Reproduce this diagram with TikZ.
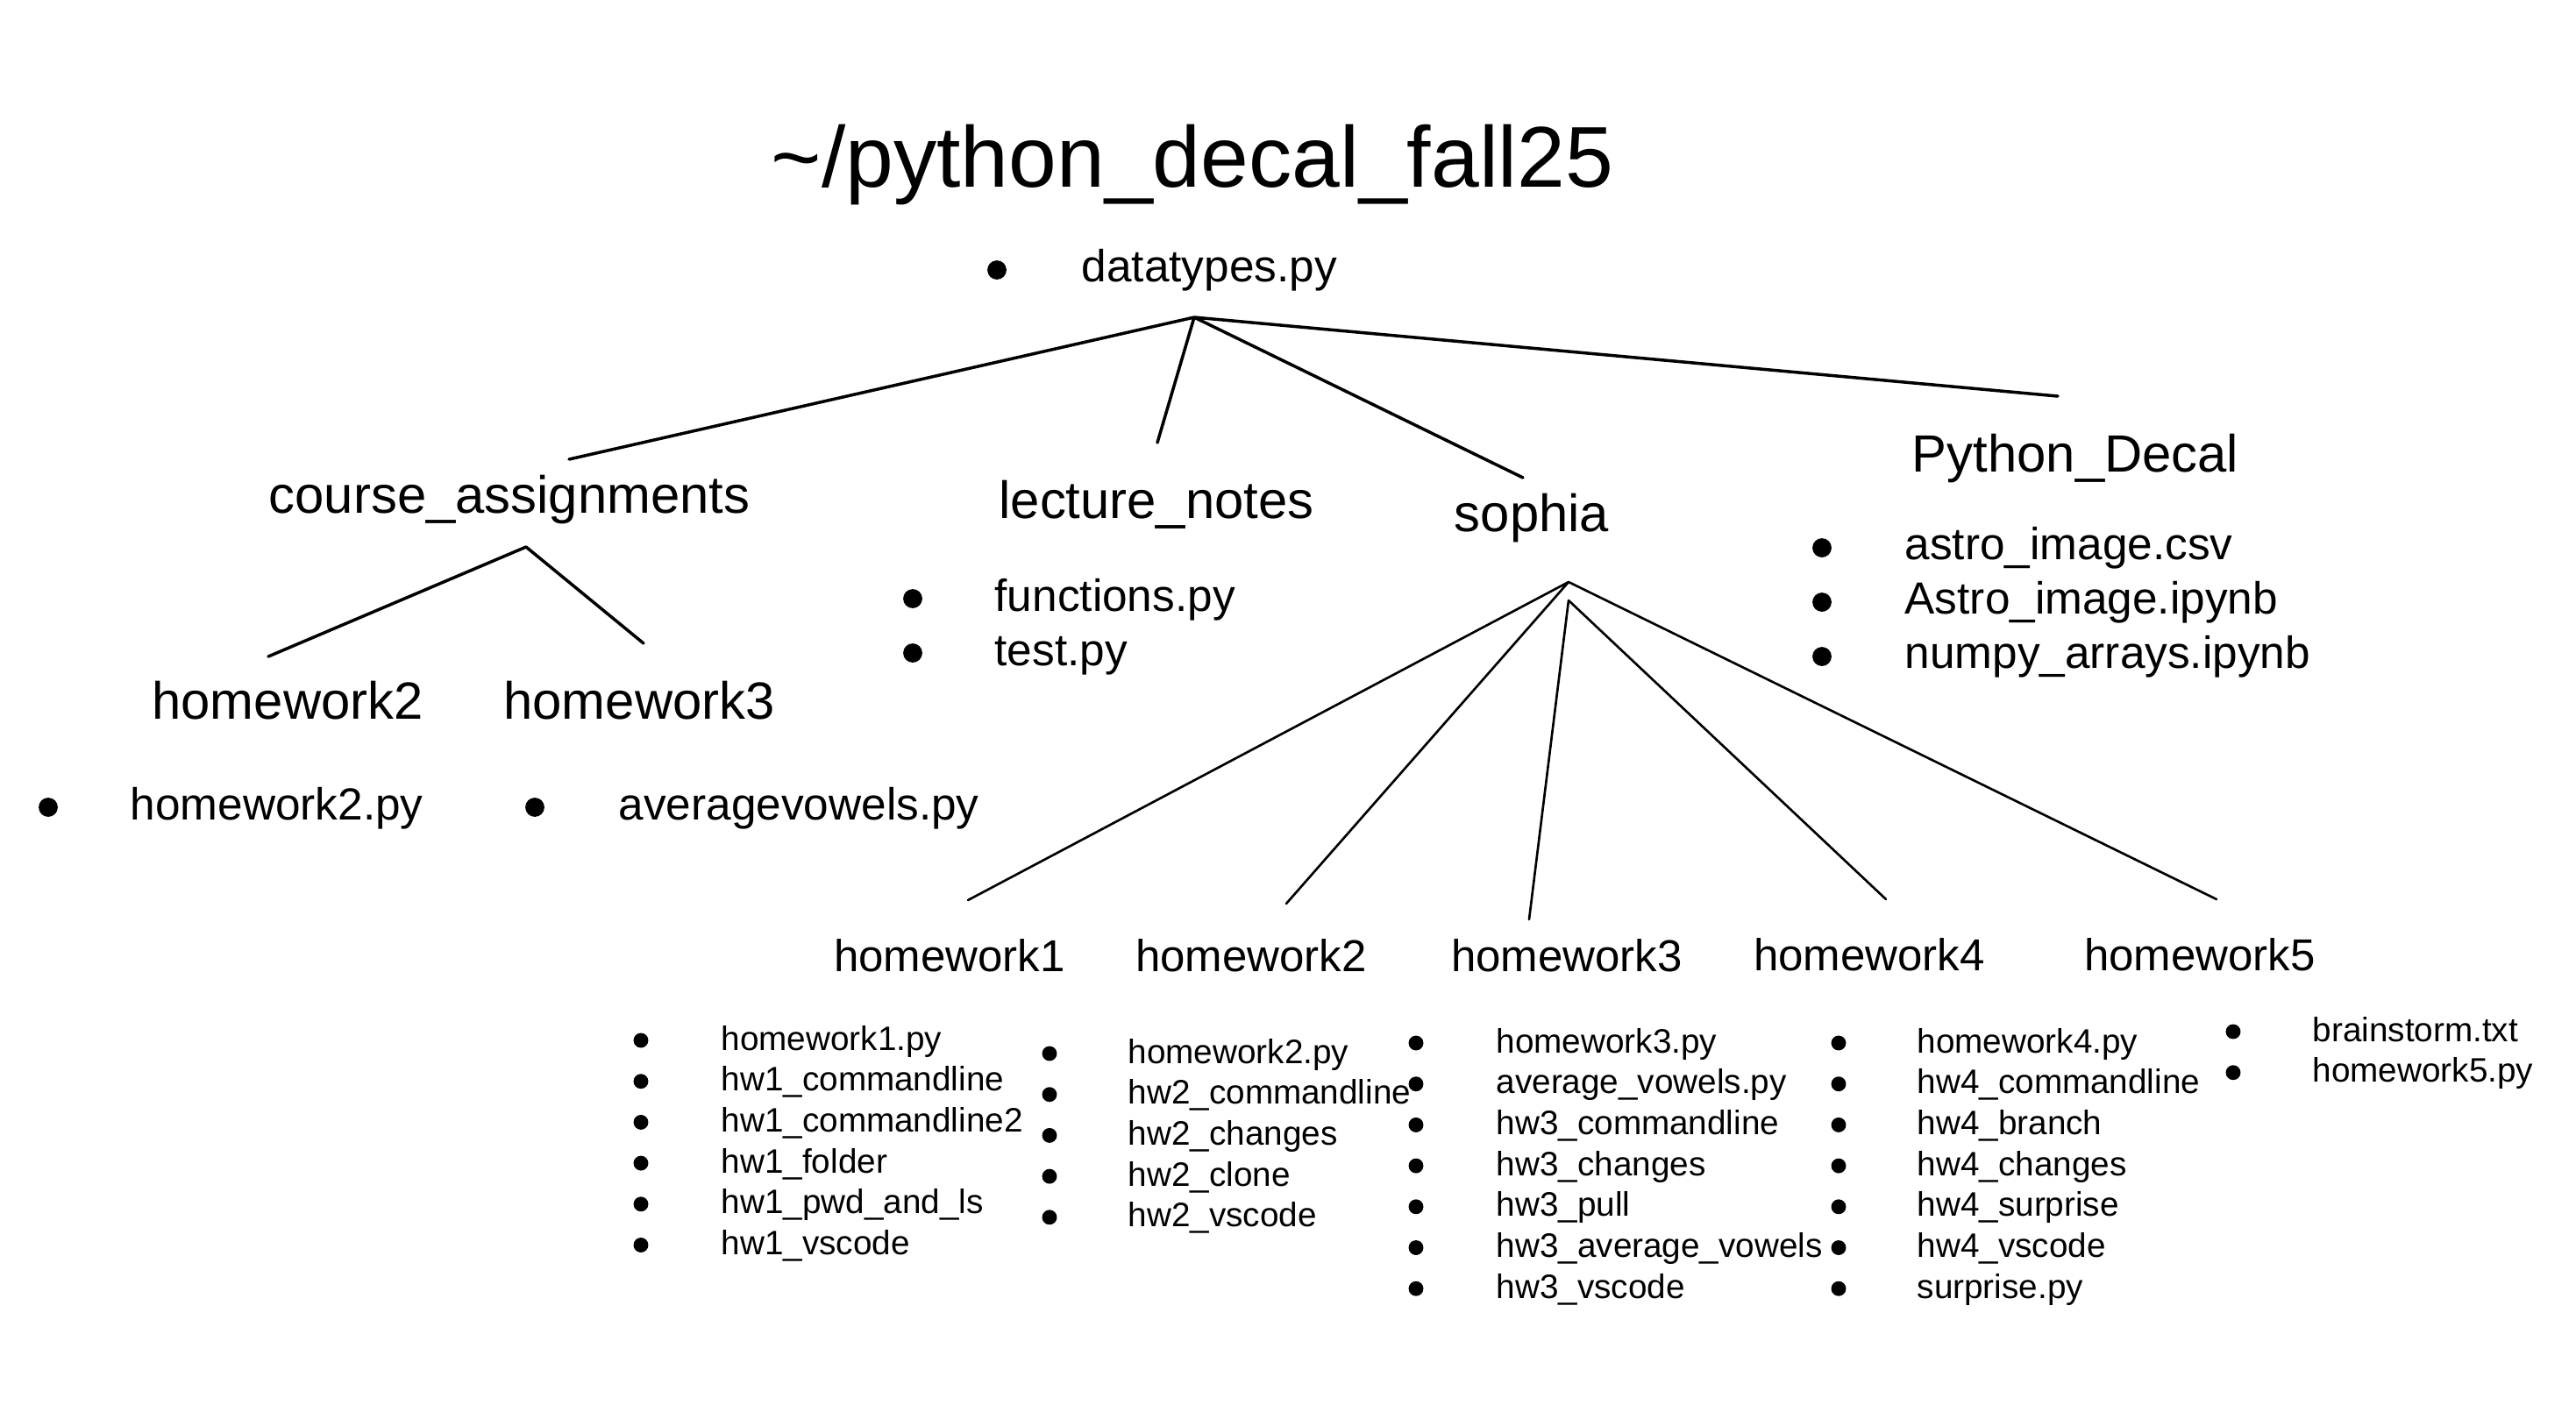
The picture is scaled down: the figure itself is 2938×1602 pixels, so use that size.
\documentclass[tikz,border=0pt]{standalone}
\usepackage{fontspec}
\setmainfont{Liberation Sans}
\tikzset{
  edge/.style={draw=black, line width=1pt, line cap=round},
  twig/.style={draw=black, line width=0.75pt, line cap=round},
  head/.style={font=\fontsize{28}{34}\selectfont, anchor=base, inner sep=0pt},
  dir/.style={font=\fontsize{17}{20}\selectfont, anchor=base, inner sep=0pt},
  subdir/.style={font=\fontsize{14.5}{17}\selectfont, anchor=base, inner sep=0pt},
  file/.style={font=\fontsize{14.6}{17}\selectfont, anchor=base west, inner sep=0pt},
  sfile/.style={font=\fontsize{11}{13}\selectfont, anchor=base west, inner sep=0pt},
  dot/.style={circle, fill=black, inner sep=0pt, minimum size=6.2pt},
  sdot/.style={circle, fill=black, inner sep=0pt, minimum size=4.8pt},
}
\begin{document}
\begin{tikzpicture}[x=0.01cm, y=-0.01cm]
  \useasboundingbox (0,0) rectangle (2938,1602);
  % top level
  \node[head] (top) at (1360,213) {\textasciitilde/python\_decal\_fall25};
  \node[dot] (dt) at (1137,308) {};
  \node[file] (dtf) at (1233,321) {datatypes.py};
  \coordinate (root) at (1362,362);
  \coordinate (caend) at (649,524);
  \coordinate (lnend) at (1320,505);
  \coordinate (soend) at (1737,545);
  \coordinate (pdend) at (2347,452);
  \draw[edge] (root)--(caend) (root)--(lnend) (root)--(soend) (root)--(pdend);
  \node[dir] (ca) at (581,585) {course\_assignments};
  \node[dir] (ln) at (1319,591) {lecture\_notes};
  \node[dir] (so) at (1747,606) {sophia};
  \node[dir] (pd) at (2367,538) {Python\_Decal};
  % course_assignments
  \coordinate (cafork) at (600,624);
  \coordinate (cah2) at (306,749);
  \coordinate (cah3) at (734,734);
  \draw[edge] (cafork)--(cah2) (cafork)--(cah3);
  \node[dir] (ch2) at (328,820) {homework2};
  \node[dir] (ch3) at (729,820) {homework3};
  \node[dot] (ch2d) at (55,921) {};
  \node[file] (ch2f) at (148,935) {homework2.py};
  \node[dot] (ch3d) at (610,921) {};
  \node[file] (ch3f) at (705,935) {averagevowels.py};
  % lecture_notes
  \foreach \f [count=\i from 0] in {functions.py, test.py}
    {\node[dot] (lnd\i) at (1041,683+62*\i) {};
     \node[file] (lnf\i) at (1134,697+62*\i) {\f};}
  % Python_Decal
  \foreach \f [count=\i from 0] in {astro\_image.csv, Astro\_image.ipynb, numpy\_arrays.ipynb}
    {\node[dot] (pdd\i) at (2078,625+62*\i) {};
     \node[file] (pdf\i) at (2172,638+62*\i) {\f};}
  % sophia
  \coordinate (sofork) at (1789,664);
  \coordinate (somid) at (1789,685);
  \coordinate (s1end) at (1104,1027);
  \coordinate (s2end) at (1467,1031);
  \coordinate (s3end) at (1744,1049);
  \coordinate (s4end) at (2151,1026);
  \coordinate (s5end) at (2528,1026);
  \draw[twig] (sofork)--(s1end) (sofork)--(s2end) (somid)--(s3end)
    (somid)--(s4end) (sofork)--(s5end);
  \node[subdir] (s1) at (1083,1108) {homework1};
  \node[subdir] (s2) at (1427,1108) {homework2};
  \node[subdir] (s3) at (1787,1108) {homework3};
  \node[subdir] (s4) at (2132,1107) {homework4};
  \node[subdir] (s5) at (2509,1107) {homework5};
  \foreach \f [count=\i from 0] in {homework1.py, hw1\_commandline, hw1\_commandline2,
      hw1\_folder, hw1\_pwd\_and\_ls, hw1\_vscode}
    {\node[sdot] (s1d\i) at (731,1187+46.7*\i) {};
     \node[sfile] (s1f\i) at (822,1198+46.7*\i) {\f};}
  \foreach \f [count=\i from 0] in {homework2.py, hw2\_commandline, hw2\_changes,
      hw2\_clone, hw2\_vscode}
    {\node[sdot] (s2d\i) at (1197,1202+46.7*\i) {};
     \node[sfile] (s2f\i) at (1286,1213+46.7*\i) {\f};}
  \foreach \f [count=\i from 0] in {homework3.py, average\_vowels.py, hw3\_commandline,
      hw3\_changes, hw3\_pull, hw3\_average\_vowels, hw3\_vscode}
    {\node[sdot] (s3d\i) at (1615,1190+46.7*\i) {};
     \node[sfile] (s3f\i) at (1706,1201+46.7*\i) {\f};}
  \foreach \f [count=\i from 0] in {homework4.py, hw4\_commandline, hw4\_branch,
      hw4\_changes, hw4\_surprise, hw4\_vscode, surprise.py}
    {\node[sdot] (s4d\i) at (2097,1190+46.7*\i) {};
     \node[sfile] (s4f\i) at (2186,1201+46.7*\i) {\f};}
  \foreach \f [count=\i from 0] in {brainstorm.txt, homework5.py}
    {\node[sdot] (s5d\i) at (2547,1177+46.7*\i) {};
     \node[sfile] (s5f\i) at (2637,1188+46.7*\i) {\f};}
\end{tikzpicture}
\end{document}
